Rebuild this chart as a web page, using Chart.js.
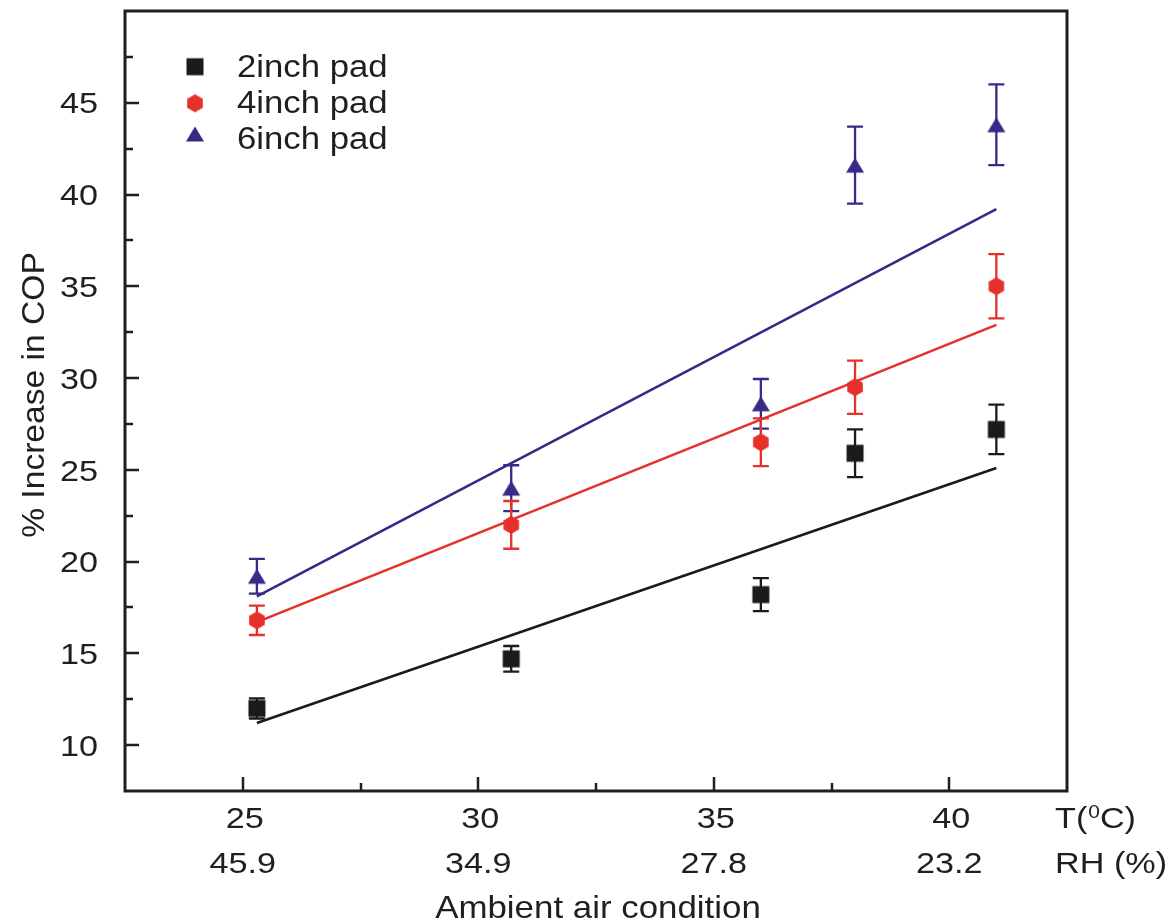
<!DOCTYPE html>
<html>
<head>
<meta charset="utf-8">
<script src="https://cdn.jsdelivr.net/npm/chart.js@4.4.1/dist/chart.umd.min.js"></script>
<style>
  html, body { margin: 0; padding: 0; background: #ffffff; }
  #wrap { width: 1174px; height: 922px; position: relative; }
</style>
</head>
<body>
<div id="wrap"><canvas id="c"></canvas></div>
<script>
// Ambient temperature (°C) of each test run
const temperatures = [25.3, 30.7, 36, 38, 41];

// % increase in COP with its uncertainty, per pad thickness
const cop2inch = [12.0, 14.7, 18.2, 25.9, 27.2];
const err2inch = [0.55, 0.7, 0.9, 1.3, 1.35];
const cop4inch = [16.8, 22.0, 26.5, 29.5, 35.0];
const err4inch = [0.8, 1.3, 1.3, 1.45, 1.75];
const cop6inch = [19.2, 24.0, 28.6, 41.6, 43.8];
const err6inch = [0.95, 1.25, 1.35, 2.1, 2.2];

// Linear trend lines, given by their values at the first and last temperature
const trendX = [25.3, 41];
const trend2inch = [11.2, 25.1];
const trend4inch = [16.7, 32.9];
const trend6inch = [18.1, 39.2];

// Bottom axis: temperature ticks with the matching relative humidity below
const tempTicks = [25, 30, 35, 40];
const rhTicks = ['45.9', '34.9', '27.8', '23.2'];
// Left axis labels
const copTicks = [10, 15, 20, 25, 30, 35, 40, 45];

const seriesNames = ['2inch pad', '4inch pad', '6inch pad'];

const FONT = '"Liberation Sans", Arial, Helvetica, sans-serif';
const INK = '#1f1f1f';
const colors = ['#1b1b1b', '#e5302b', '#3a2888'];

function makeMarker(kind, color) {
  const c = document.createElement('canvas');
  c.width = 22; c.height = 22;
  const g = c.getContext('2d');
  const m = 11;
  g.fillStyle = color;
  g.beginPath();
  if (kind === 'square') {
    g.rect(m - 8.5, m - 8.5, 17, 17);
  } else if (kind === 'hex') {
    for (let k = 0; k < 6; k++) {
      const a = -Math.PI / 2 + k * Math.PI / 3;
      g.lineTo(m + 9 * Math.cos(a), m + 9 * Math.sin(a));
    }
    g.closePath();
  } else {
    g.moveTo(m, m - 7.5);
    g.lineTo(m + 9, m + 7.5);
    g.lineTo(m - 9, m + 7.5);
    g.closePath();
  }
  g.fill();
  return c;
}
const markers = [makeMarker('square', colors[0]), makeMarker('hex', colors[1]), makeMarker('tri', colors[2])];

const copSeries = [cop2inch, cop4inch, cop6inch];
const errSeries = [err2inch, err4inch, err6inch];
const trendSeries = [trend2inch, trend4inch, trend6inch];

const measured = copSeries.map((ys, i) => ({
  type: 'scatter',
  label: seriesNames[i],
  data: temperatures.map((t, j) => ({ x: t, y: ys[j] })),
  errors: errSeries[i],
  pointStyle: markers[i],
  pointRadius: 9,
  borderColor: colors[i],
  backgroundColor: colors[i]
}));
const trends = trendSeries.map((ys, i) => ({
  type: 'line',
  label: seriesNames[i] + ' fit',
  data: trendX.map((t, j) => ({ x: t, y: ys[j] })),
  borderColor: colors[i],
  borderWidth: 2.6,
  pointRadius: 0,
  fill: false,
  tension: 0
}));

// Text in the figure's slightly wide sans face
function wideText(ctx, str, x, y, size, sx, align) {
  ctx.save();
  ctx.font = size + 'px ' + FONT;
  ctx.textAlign = align || 'left';
  ctx.textBaseline = 'alphabetic';
  ctx.translate(x, y);
  ctx.scale(sx, 1);
  ctx.fillText(str, 0, 0);
  const w = ctx.measureText(str).width * sx;
  ctx.restore();
  return w;
}

// Error bars, frame, inward tick marks, tick labels, legend and titles
const decorations = {
  id: 'decorations',
  beforeDatasetDraw(chart, args) {
    const ds = chart.data.datasets[args.index];
    if (!ds.errors) return;
    const ctx = chart.ctx, xs = chart.scales.x, ys = chart.scales.y;
    ctx.save();
    ctx.strokeStyle = ds.borderColor;
    ctx.lineWidth = 2.3;
    ds.data.forEach((p, i) => {
      const px = xs.getPixelForValue(p.x);
      const top = ys.getPixelForValue(p.y + ds.errors[i]);
      const bot = ys.getPixelForValue(p.y - ds.errors[i]);
      ctx.beginPath();
      ctx.moveTo(px, top); ctx.lineTo(px, bot);
      ctx.moveTo(px - 8, top); ctx.lineTo(px + 8, top);
      ctx.moveTo(px - 8, bot); ctx.lineTo(px + 8, bot);
      ctx.stroke();
    });
    ctx.restore();
  },
  afterDraw(chart) {
    const ctx = chart.ctx, a = chart.chartArea;
    const xs = chart.scales.x, ys = chart.scales.y;
    ctx.save();
    ctx.strokeStyle = INK;
    ctx.fillStyle = INK;

    // plot frame
    ctx.lineWidth = 3;
    ctx.strokeRect(a.left, a.top, a.right - a.left, a.bottom - a.top);

    // tick marks pointing into the plot
    ctx.lineWidth = 2.5;
    ctx.beginPath();
    xs.ticks.forEach(t => {
      if (t.value <= xs.min || t.value >= xs.max) return;
      const len = t.value % 5 === 0 ? 14 : 8;
      const px = Math.round(xs.getPixelForValue(t.value));
      ctx.moveTo(px, a.bottom); ctx.lineTo(px, a.bottom - len);
    });
    ys.ticks.forEach(t => {
      if (t.value <= ys.min || t.value >= ys.max) return;
      const len = t.value % 5 === 0 ? 14 : 8;
      const py = Math.round(ys.getPixelForValue(t.value));
      ctx.moveTo(a.left, py); ctx.lineTo(a.left + len, py);
    });
    ctx.stroke();

    // left axis labels
    copTicks.forEach(v => {
      wideText(ctx, String(v), a.left - 27, ys.getPixelForValue(v) + 10.7, 30, 1.14, 'right');
    });
    // bottom axis labels: temperature, then relative humidity
    tempTicks.forEach((v, k) => {
      const px = xs.getPixelForValue(v) + 2;
      wideText(ctx, String(v), px, a.bottom + 37, 30, 1.14, 'center');
      wideText(ctx, rhTicks[k], px - 2, a.bottom + 82, 30, 1.14, 'center');
    });

    // row captions at the right end of the bottom axis
    let x = 1055;
    const base1 = a.bottom + 37;
    x += wideText(ctx, 'T(', x, base1, 30, 1.14);
    x += wideText(ctx, '0', x + 1, base1 - 10, 19, 1.1);
    wideText(ctx, 'C)', x + 1, base1, 30, 1.14);
    wideText(ctx, 'RH (%)', 1055, a.bottom + 82, 30, 1.14);

    // axis titles
    wideText(ctx, 'Ambient air condition', (a.left + a.right) / 2 + 2, 918, 32, 1.09, 'center');
    ctx.save();
    ctx.translate(44, (a.top + a.bottom) / 2 - 6);
    ctx.rotate(-Math.PI / 2);
    wideText(ctx, '% Increase in COP', 0, 0, 32, 1.05, 'center');
    ctx.restore();

    // legend
    const markerY = [66.7, 103.3, 134];
    const textBase = [77.3, 113.3, 148.5];
    chart.data.datasets.forEach((ds, i) => {
      if (!ds.errors) return;
      const m = ds.pointStyle;
      ctx.drawImage(m, 195 - m.width / 2, markerY[i] - m.height / 2);
      wideText(ctx, ds.label, 237, textBase[i], 31, 1.12);
    });
    ctx.restore();
  }
};

new Chart(document.getElementById('c'), {
  type: 'scatter',
  data: { datasets: [...measured, ...trends] },
  options: {
    responsive: true,
    maintainAspectRatio: false,
    devicePixelRatio: 1,
    animation: false,
    events: [],
    layout: { padding: { left: 0, right: 107, top: 11, bottom: 0 } },
    plugins: { legend: { display: false }, tooltip: { enabled: false } },
    scales: {
      x: {
        type: 'linear',
        min: 22.5,
        max: 42.5,
        grid: { display: false },
        border: { display: false },
        ticks: { stepSize: 2.5, autoSkip: false, display: false },
        afterFit(scale) {
          scale.height = 131;
          scale.paddingLeft = 0; scale.paddingRight = 0;
          scale.paddingTop = 0; scale.paddingBottom = 0;
        }
      },
      y: {
        type: 'linear',
        min: 7.5,
        max: 50,
        grid: { display: false },
        border: { display: false },
        ticks: { stepSize: 2.5, autoSkip: false, display: false },
        afterFit(scale) {
          scale.width = 125;
          scale.paddingLeft = 0; scale.paddingRight = 0;
          scale.paddingTop = 0; scale.paddingBottom = 0;
        }
      }
    }
  },
  plugins: [decorations]
});
</script>
</body>
</html>
